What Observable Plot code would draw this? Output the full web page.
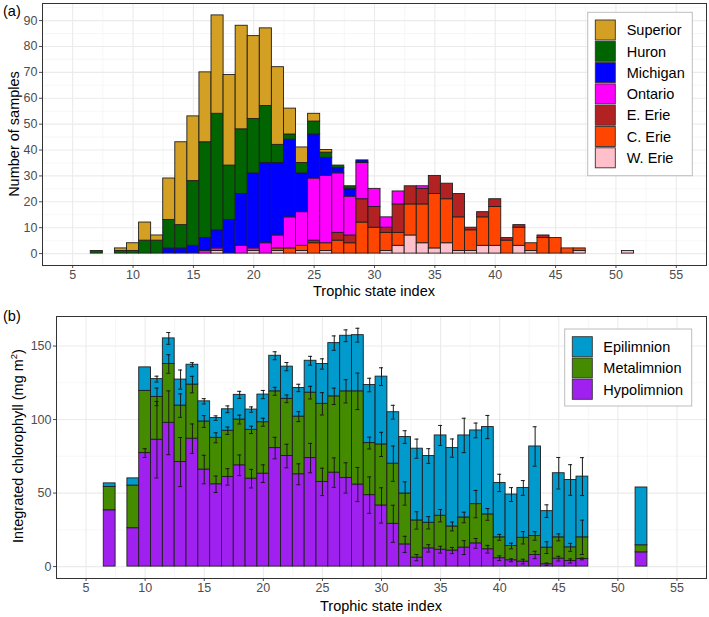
<!DOCTYPE html>
<html><head><meta charset="utf-8">
<script src="https://cdn.jsdelivr.net/npm/d3@7"></script>
<script src="https://cdn.jsdelivr.net/npm/@observablehq/plot@0.6"></script>
<style>
body{margin:0;background:#fff;}
#wrap{position:relative;width:709px;height:617px;overflow:hidden;background:#fff;}
#wrap > svg{position:absolute;left:0;}
</style></head><body><div id="wrap"></div>
<script>
// ---------- Panel (a): number of samples by trophic state index ----------
const binsA = [7,8,9,10,11,12,13,14,15,16,17,18,19,20,21,22,23,24,25,26,27,28,29,30,31,32,33,34,35,36,37,38,39,40,41,42,43,44,45,46,47,48,49,50,51];
const lakes = ["Superior","Huron","Michigan","Ontario","E. Erie","C. Erie","W. Erie"];
const lakeColors = ["#D4A024","#006400","#0000FF","#FF00FF","#B22222","#FF4500","#FFC0CB"];
const superior = [0,0,1,3,7,2,16,32,25,27, 38,35,40,32,30,30,10,6,3,1, 0,0,0,0,0,0,0,0,0,0, 0,0,0,0,0,0,0,0,0,0, 0,0,0,0,0];
const huron    = [1,0,1,1,5,5,11,9,25,37, 45,21,25,21,22,7,2,4,5,2, 1,1,0,0,0,0,0,0,0,0, 0,0,0,0,0,0,0,0,0,0, 0,0,0,0,0];
const michigan = [0,0,0,0,0,0,2,2,3,5, 7,13,20,29,31,28,30,15,17,7, 2,3,1,0,0,0,0,0,0,0, 0,0,0,0,0,0,0,0,0,0, 0,0,0,0,0];
const ontario  = [0,0,0,0,0,0,0,0,0,1, 1,0,3,1,4,5,12,13,24,26, 23,15,14,7,4,5,0,1,0,0, 0,0,0,0,0,0,0,0,0,0, 0,0,0,0,0];
const eErie    = [0,0,0,0,0,0,0,0,0,0, 0,0,0,0,0,0,0,0,1,0, 3,3,9,8,2,11,7,6,7,6, 9,1,2,3,1,1,0,1,0,0, 0,0,0,0,0];
const cErie    = [0,0,0,0,0,0,0,0,0,0, 0,0,0,0,0,1,2,2,4,3, 5,4,12,10,7,5,12,15,21,17, 13,8,11,15,5,7,3,6,6,2, 1,0,0,0,0];
const wErie    = [0,0,0,0,0,0,0,0,0,0, 1,0,0,1,0,1,0,1,0,1, 0,0,0,0,1,3,7,4,2,4, 1,1,3,3,0,3,1,0,0,0, 1,0,0,0,1];
const countsA = [superior,huron,michigan,ontario,eErie,cErie,wErie];
const yTicksA = [0,10,20,30,40,50,60,70,80,90];

// ---------- Panel (b): integrated chlorophyll by layer ----------
const binsB = [7,9,10,11,12,13,14,15,16,17,18,19,20,21,22,23,24,25,26,27,28,29,30,31,32,33,34,35,36,37,38,39,40,41,42,43,44,45,46,47,52];
const layers = ["Epilimnion","Metalimnion","Hypolimnion"];
const layerColors = ["#009ACD","#458B00","#A020F0"];
const hypo = [38.3,26.1,77.2,86.3,97.8,71.1,87.0,66.0,56.0,61.0,68.9,59.8,63.2,80.6,75.2,62.8,73.8,57.6,63.9,60.3,55.8,48.6,41.6,29.1,15.1,6.1,12.4,11.5,10.9,12.9,15.8,11.8,5.7,4.3,3.4,7.9,1.6,5.4,3.8,5.2,9.7];
const meta = [15.9,29.0,42.3,29.1,40.0,38.4,36.8,32.7,31.6,31.4,31.1,33.2,35.0,38.6,38.9,39.2,44.5,53.1,51.9,58.9,63.4,35.4,41.5,40.9,34.6,25.3,17.4,23.1,16.4,20.5,26.7,23.7,14.2,9.7,16.2,12.9,11.3,14.5,9.3,14.7,4.8];
const epi = [2.4,4.9,16.0,12.1,17.4,17.7,13.5,13.7,13.4,14.6,16.8,13.8,18.8,24.2,21.9,19.5,21.7,27.1,36.2,37.8,38.2,39.5,46.1,35.0,38.4,48.8,45.4,54.6,53.3,55.8,50.1,59.4,37.0,35.0,33.9,60.9,24.8,43.6,45.8,41.3,39.3];
const hypoErr = [null,null,3,26,21.7,16.7,10,9.7,5.6,5.6,7,6.3,6,7.3,8,7.1,10,9.3,10,10.3,11.6,12.4,12,12.6,5.5,2.1,2.5,2.3,2.1,4.7,3.3,2.6,1.6,1,1.6,2.5,0.8,1.6,1.4,0.6,null];
const metaErr = [null,null,null,6,6.3,8,5.6,4,3.4,2.5,3,2.5,2.7,2.7,2.6,3.4,4.3,7.6,5.6,7.9,12.4,4,8.2,12,7.9,5.9,4.2,4.2,3,3.6,9.3,4,2,1.9,4.2,2.9,4,2.4,2.7,11.7,null];
const epiErr = [null,null,null,2,4,6.5,1.4,1.8,1.5,2.3,2.4,1.8,2.8,2.7,2.8,2.5,3,3.5,4.9,4,4.7,4.6,6,4.7,4.3,6.5,5,6.8,6.2,11.7,5,7.9,5.9,4.7,5,13.4,4.3,10.7,10.4,12.9,null];
const yTicksB = [0,50,100,150];

const xTicks = [5,10,15,20,25,30,35,40,45,50,55];
const xMinor = [7.5,12.5,17.5,22.5,27.5,32.5,37.5,42.5,47.5,52.5];
const xLabel = "Trophic state index";

// ---------- build tables ----------
const rowsA = [];
binsA.forEach((b, i) => {
  let base = 0;
  // bottom to top: W. Erie ... Superior
  for (let k = lakes.length - 1; k >= 0; k--) {
    const c = countsA[k][i];
    if (c > 0) rowsA.push({bin: b, lake: lakes[k], y1: base, y2: base + c});
    base += c;
  }
});
const rowsB = [], errB = [];
binsB.forEach((b, i) => {
  const segs = [["Hypolimnion", hypo[i], hypoErr[i]], ["Metalimnion", meta[i], metaErr[i]], ["Epilimnion", epi[i], epiErr[i]]];
  let base = 0;
  for (const [name, v, e] of segs) {
    rowsB.push({bin: b, layer: name, y1: base, y2: base + v});
    base += v;
    if (e != null) errB.push({bin: b, top: base, lo: base - e, hi: base + e});
  }
});

const font = '"Liberation Sans", Arial, Helvetica, sans-serif';
const gridMajor = "#EBEBEB", gridMinor = "#F3F3F3";

function gridMarks(yMajor, yMinor) {
  return [
    Plot.ruleX(xMinor, {stroke: gridMinor, strokeWidth: 0.7}),
    Plot.ruleY(yMinor, {stroke: gridMinor, strokeWidth: 0.7}),
    Plot.ruleX(xTicks, {stroke: gridMajor, strokeWidth: 1.1}),
    Plot.ruleY(yMajor, {stroke: gridMajor, strokeWidth: 1.1})
  ];
}

const plotA = Plot.plot({
  width: 709, height: 300,
  marginLeft: 42, marginRight: 3, marginTop: 3, marginBottom: 35,
  style: {fontFamily: font, fontSize: "12.5px", color: "#4D4D4D", background: "transparent", overflow: "visible"},
  x: {domain: [2.5, 57.5], ticks: xTicks, tickSize: 3, tickPadding: 2, label: null},
  y: {domain: [-4.6, 96.6], ticks: yTicksA, tickSize: 3, tickPadding: 2, label: null},
  color: {domain: lakes, range: lakeColors},
  marks: [
    ...gridMarks(yTicksA, [5,15,25,35,45,55,65,75,85,95]),
    Plot.rect(rowsA, {x1: d => d.bin - 0.5, x2: d => d.bin + 0.5, y1: "y1", y2: "y2", fill: "lake", stroke: "#1f1f1f", strokeWidth: 0.9}),
    Plot.frame({stroke: "#333333", strokeWidth: 1})
  ]
});
plotA.style.top = "0px";

const plotB = Plot.plot({
  width: 709, height: 317,
  marginLeft: 56, marginRight: 3, marginTop: 16, marginBottom: 39,
  style: {fontFamily: font, fontSize: "12.5px", color: "#4D4D4D", background: "transparent", overflow: "visible"},
  x: {domain: [2.5, 57.5], ticks: xTicks, tickSize: 3, tickPadding: 2, label: null},
  y: {domain: [-8.1, 170.1], ticks: yTicksB, tickSize: 3, tickPadding: 2, label: null},
  color: {domain: layers, range: layerColors},
  marks: [
    ...gridMarks(yTicksB, [25,75,125]),
    Plot.rect(rowsB, {x1: d => d.bin - 0.5, x2: d => d.bin + 0.5, y1: "y1", y2: "y2", fill: "layer", stroke: "#1f1f1f", strokeWidth: 0.9}),
    Plot.ruleX(errB, {x: "bin", y1: "lo", y2: "hi", stroke: "#1a1a1a", strokeWidth: 1}),
    Plot.ruleY(errB, {y: "hi", x1: d => d.bin - 0.17, x2: d => d.bin + 0.17, stroke: "#1a1a1a", strokeWidth: 1}),
    Plot.ruleY(errB, {y: "lo", x1: d => d.bin - 0.17, x2: d => d.bin + 0.17, stroke: "#1a1a1a", strokeWidth: 1}),
    Plot.frame({stroke: "#333333", strokeWidth: 1})
  ]
});
plotB.style.top = "300px";

const wrap = document.getElementById("wrap");
wrap.appendChild(plotA);
wrap.appendChild(plotB);

// ---------- overlay: titles and legends ----------
const ov = d3.create("svg").attr("width", 709).attr("height", 617)
  .style("top", "0px").style("pointer-events", "none")
  .attr("font-family", font);

ov.append("text").attr("x", 3).attr("y", 16).attr("font-size", 14.5).attr("fill", "#000").text("(a)");
ov.append("text").attr("x", 3).attr("y", 320.5).attr("font-size", 14.5).attr("fill", "#000").text("(b)");

ov.append("text").attr("x", 374).attr("y", 296).attr("text-anchor", "middle").attr("font-size", 14.5).attr("fill", "#000").text(xLabel);
ov.append("text").attr("x", 381).attr("y", 611).attr("text-anchor", "middle").attr("font-size", 14.5).attr("fill", "#000").text(xLabel);

ov.append("text").attr("transform", "translate(19,134) rotate(-90)").attr("text-anchor", "middle")
  .attr("font-size", 14.5).attr("fill", "#000").text("Number of samples");
const yt = ov.append("text").attr("transform", "translate(22.5,446) rotate(-90)").attr("text-anchor", "middle")
  .attr("font-size", 14.5).attr("fill", "#000");
yt.append("tspan").text("Integrated chlorophyll (mg m");
yt.append("tspan").attr("font-size", 9.5).attr("dy", -6).text("2");
yt.append("tspan").attr("dy", 6).text(")");

function legend(x, y, w, h, keyX, keyY0, step, names, colors, textX) {
  ov.append("rect").attr("x", x).attr("y", y).attr("width", w).attr("height", h)
    .attr("fill", "#fff").attr("stroke", "#BDBDBD").attr("stroke-width", 1);
  names.forEach((n, i) => {
    const ky = keyY0 + i * step;
    ov.append("rect").attr("x", keyX).attr("y", ky).attr("width", 20).attr("height", 20)
      .attr("fill", colors[i]).attr("stroke", "#333").attr("stroke-width", 0.9);
    ov.append("text").attr("x", textX).attr("y", ky + 10).attr("dy", "0.36em")
      .attr("font-size", 14.5).attr("fill", "#000").text(n);
  });
}
legend(587.7, 12.3, 104.6, 163.4, 595.3, 20, 21.3, lakes, lakeColors, 626.7);
legend(564.7, 329, 127, 77, 572.3, 336.7, 21.3, layers, layerColors, 603.3);

wrap.appendChild(ov.node());
</script></body></html>
